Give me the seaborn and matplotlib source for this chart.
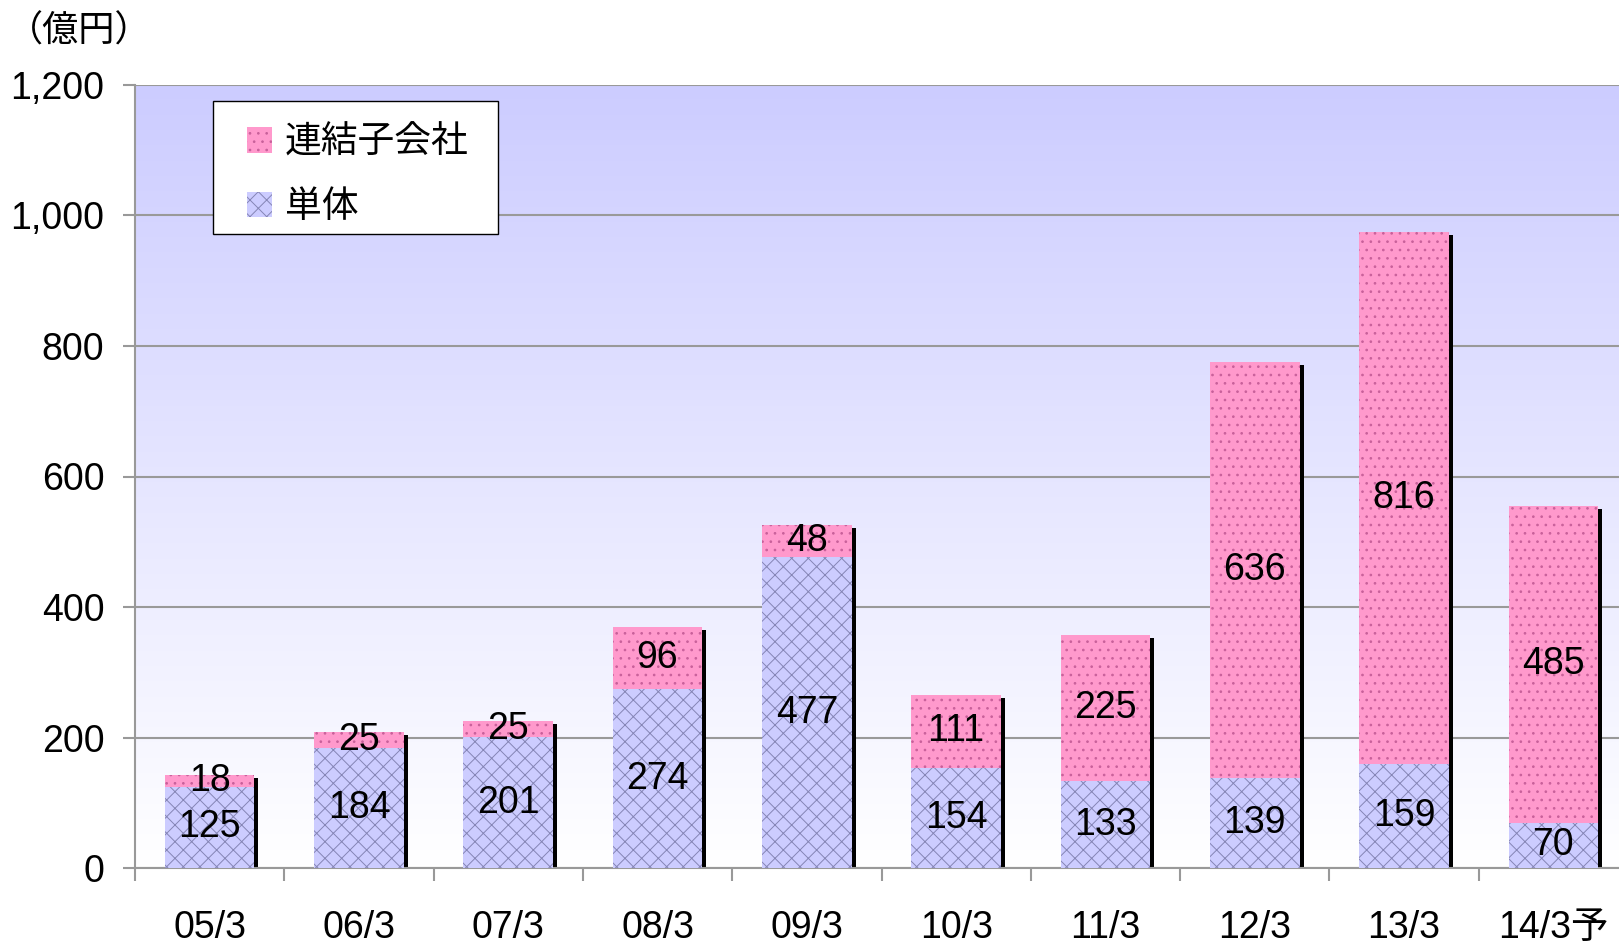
import numpy as np
import seaborn as sns
import matplotlib.pyplot as plt
from matplotlib.colors import LinearSegmentedColormap
from matplotlib.patches import Patch, Rectangle
from matplotlib.ticker import FuncFormatter
from matplotlib.transforms import ScaledTranslation

# データ（億円）
categories = ['05/3', '06/3', '07/3', '08/3', '09/3', '10/3', '11/3', '12/3', '13/3', '14/3予']
tantai = [125, 184, 201, 274, 477, 154, 133, 139, 159, 70]       # 単体
renketsu = [18, 25, 25, 96, 48, 111, 225, 636, 816, 485]         # 連結子会社
yticks = [0, 200, 400, 600, 800, 1000, 1200]

totals = [a + b for a, b in zip(tantai, renketsu)]
x = np.arange(len(categories))

sns.set_theme(style='white')
plt.rcParams['font.family'] = ['Liberation Sans', 'Noto Sans CJK JP']
plt.rcParams['text.color'] = 'black'
plt.rcParams['hatch.linewidth'] = 0.7

pink = '#FF99CC'
pink_dot = '#C8609A'
blue = '#CCCCFF'
blue_hatch = '#8585B5'
gray = '#999999'
W, H = 1619, 944

fig = plt.figure(figsize=(W / 100, H / 100), dpi=100)
ax = fig.add_axes([135 / W, (H - 868.3) / H, 1493 / W, 783.6 / H])

# 背景グラデーション
cmap = LinearSegmentedColormap.from_list('bg', ['#FFFFFF', '#CCCCFF'])
grad = np.linspace(0, 1, 256).reshape(-1, 1)
ax.imshow(grad, extent=(-0.5, 9.5, 0, 1200), aspect='auto', cmap=cmap,
          origin='lower', zorder=0)

# 影
shadow = ax.transData + ScaledTranslation(4 / 100, -3 / 100, fig.dpi_scale_trans)
ax.bar(x, totals, width=0.6, color='black', linewidth=0, zorder=1.5, transform=shadow)

# 棒グラフ（合計＝連結子会社、その上に単体）
sns.barplot(x=categories, y=totals, color=pink, saturation=1, width=0.6,
            errorbar=None, hatch='..', edgecolor=pink_dot, linewidth=0,
            zorder=2, ax=ax)
sns.barplot(x=categories, y=tantai, color=blue, saturation=1, width=0.6,
            errorbar=None, hatch='xx', edgecolor=blue_hatch, linewidth=0,
            zorder=3, ax=ax)

# 数値ラベル
for i in range(len(categories)):
    ax.text(i, tantai[i] / 2, str(tantai[i]), ha='center', va='center',
            fontsize=27, color='black', zorder=5)
    ax.text(i, tantai[i] + renketsu[i] / 2, str(renketsu[i]), ha='center',
            va='center', fontsize=27, color='black', zorder=5)

ax.set_xlim(-0.5, 9.5)
ax.set_ylim(0, 1200)
ax.set_xlabel('')
ax.set_ylabel('')

# 軸・目盛り
ax.set_yticks(yticks)
ax.yaxis.set_major_formatter(FuncFormatter(lambda v, p: f'{int(v):,}'))
ax.tick_params(axis='y', which='major', left=True, length=9, width=1.5,
               color=gray, labelsize=27, labelcolor='black', pad=13, direction='out')
ax.set_xticks(x)
ax.set_xticklabels(categories)
ax.set_xticks(np.arange(-0.5, 10, 1), minor=True)
ax.tick_params(axis='x', which='major', length=0, labelsize=27,
               labelcolor='black', pad=30)
ax.tick_params(axis='x', which='minor', bottom=True, length=9, width=1.5,
               color=gray, direction='out')

ax.grid(False)
ax.yaxis.grid(True, color=gray, linewidth=1.5)
ax.set_axisbelow(True)
for s in ['top', 'right']:
    ax.spines[s].set_visible(False)
for s in ['left', 'bottom']:
    ax.spines[s].set_color(gray)
    ax.spines[s].set_linewidth(1.5)

# 凡例（枠は別に描く）
frame = Rectangle((213 / W, 1 - 234 / H), 285 / W, 133 / H, transform=fig.transFigure,
                  facecolor='white', edgecolor='black', linewidth=1.0,
                  zorder=9, clip_on=False)
ax.add_patch(frame)
handles = [Patch(facecolor=pink, hatch='..', edgecolor=pink_dot, linewidth=0, label='連結子会社'),
           Patch(facecolor=blue, hatch='xx', edgecolor=blue_hatch, linewidth=0, label='単体')]
leg = ax.legend(handles=handles, loc='center left',
                bbox_to_anchor=(247 / W, 1 - 175.5 / H), bbox_transform=fig.transFigure,
                borderaxespad=0, borderpad=0, fontsize=26.5, frameon=False,
                handlelength=0.68, handleheight=0.68, handletextpad=0.35,
                labelspacing=0.8)
leg.set_zorder(10)

fig.text(79 / W, 1 - 32 / H, '（億円）', ha='center', va='center', fontsize=26)

plt.savefig('out.png', dpi=100)
